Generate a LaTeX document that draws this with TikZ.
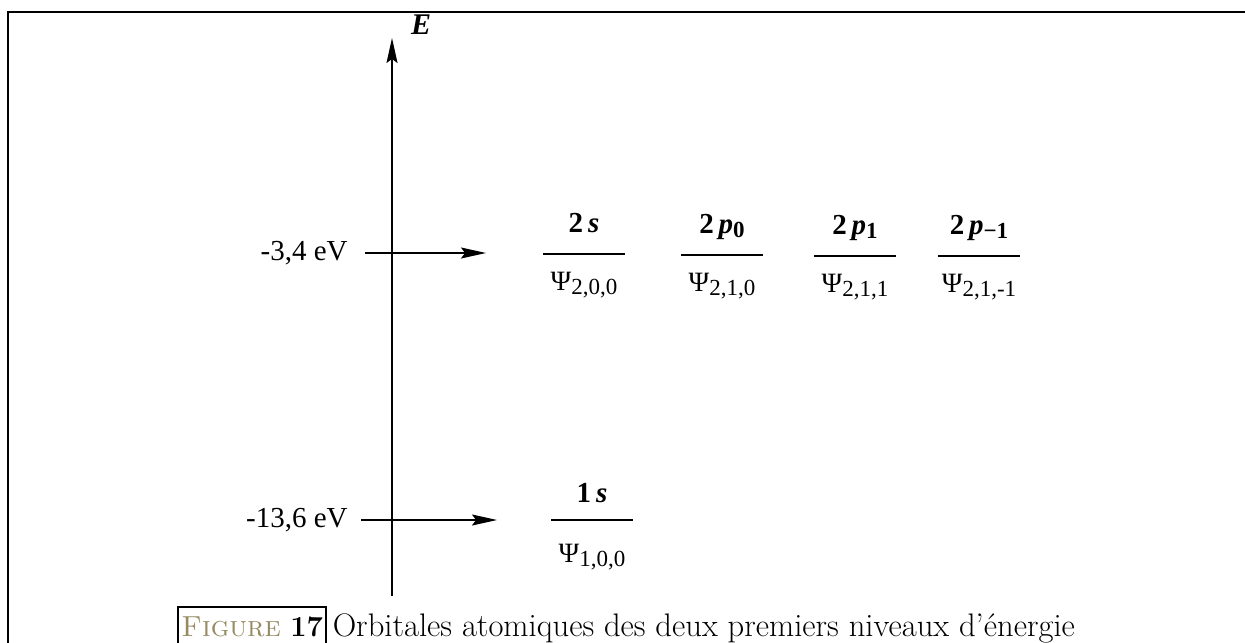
\documentclass[tikz,border=0pt]{standalone}
\usepackage{fontspec}
\newfontfamily\diagfont{Liberation Serif}
\usetikzlibrary{arrows.meta}
\definecolor{figgold}{RGB}{150,138,98}
\newcommand{\orbsub}[1]{\raisebox{-0.32ex}{\fontsize{11.5}{13}\selectfont #1}}

\tikzset{
  levlabel/.style={anchor=east,inner sep=0pt,font=\diagfont\fontsize{14.5}{16}\selectfont},
  level/.style={line width=1pt},
  orbname/.style={font=\diagfont\fontsize{14.5}{16}\selectfont\bfseries,inner sep=0pt},
  orbpsi/.style={font=\diagfont\fontsize{14}{16}\selectfont,inner sep=0pt}
}

\begin{document}
\begin{tikzpicture}[x=0.5pt,y=-0.5pt,
  >={Stealth[length=12.5pt,width=5.5pt,inset=2pt]}]
\useasboundingbox (0,0) rectangle (1245,642);
\clip (0,0) rectangle (1245,642);
\draw[line width=1.1pt] (8,12) rectangle (1265,670);

% energy axis
\coordinate (axbot) at (392,596);
\coordinate (axtop) at (392,38);
\draw[line width=0.8pt,->] (axbot) -- (axtop);
\node[font=\diagfont\fontsize{15}{17}\selectfont\bfseries\itshape] (E) at (421,25) {E};

% energy values
\node[levlabel] (eup) at (348,253) {-3,4 eV};
\node[levlabel] (elow) at (348,520) {-13,6 eV};
\coordinate (upstart) at (365,253); \coordinate (uptip) at (486,253);
\coordinate (lowstart) at (361,520); \coordinate (lowtip) at (497,520);
\draw[line width=0.7pt,->] (upstart) -- (uptip);
\draw[line width=0.7pt,->] (lowstart) -- (lowtip);

% orbital levels
\foreach \nm/\cx/\cy/\ua/\da/\up/\dn in {
  s2/584/254/22/36/{2\,\textit{s}}/{Ψ\orbsub{2,0,0}},
  pzero/722/255/22/36/{2\,\textit{p}\orbsub{0}}/{Ψ\orbsub{2,1,0}},
  pone/855/256/22/36/{2\,\textit{p}\orbsub{1}}/{Ψ\orbsub{2,1,1}},
  pmone/979/256/22/36/{2\,\textit{p}\orbsub{−1}}/{Ψ\orbsub{2,1,-1}},
  s1/592/520/18/42/{1\,\textit{s}}/{Ψ\orbsub{1,0,0}}}{
  \coordinate (\nm l) at (\cx-41,\cy);
  \coordinate (\nm r) at (\cx+41,\cy);
  \draw[level] (\nm l) -- (\nm r);
  \node[orbname,anchor=base] (\nm name) at (\cx,\cy-\ua) {\up};
  \node[orbpsi,anchor=base] (\nm psi) at (\cx,\cy+\da) {\dn};
}

% caption
\node[anchor=base west,inner xsep=1.5pt,inner ysep=0pt,font=\fontsize{14.5}{17}\selectfont] (figno) at (178,636)
  {\textcolor{figgold}{\textsc{Figure}} \textbf{17}};
\coordinate (boxtop) at (0,607);
\draw[line width=1.1pt] (figno.west |- 0,660) |- (boxtop -| figno.east) -- (figno.east |- 0,660);
\node[anchor=base west,inner xsep=3pt,inner ysep=0pt,font=\fontsize{16.3}{18}\selectfont] (cap) at (figno.base east)
  {Orbitales atomiques des deux premiers niveaux d’énergie};
\end{tikzpicture}
\end{document}
